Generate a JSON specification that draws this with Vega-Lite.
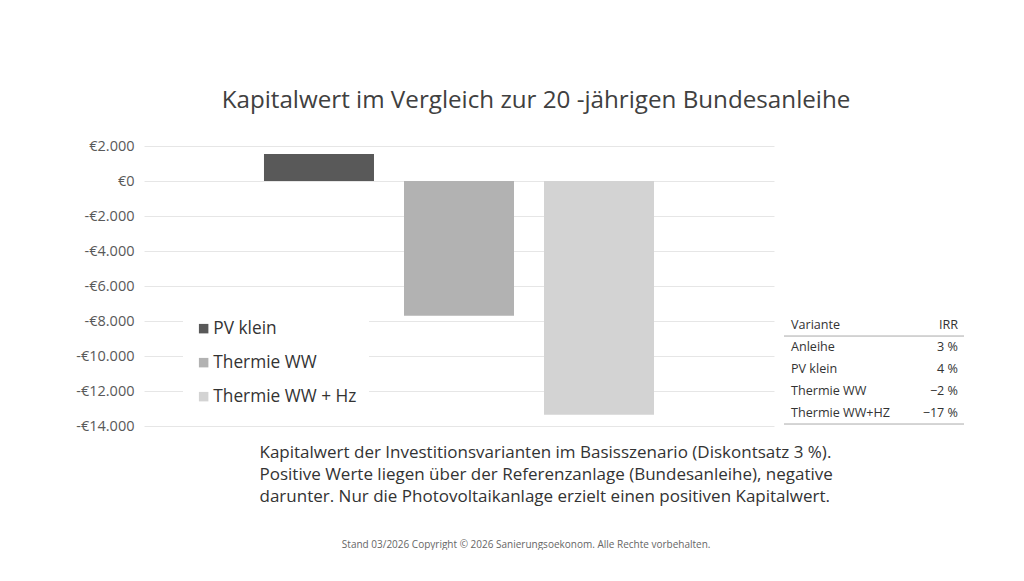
{
  "$schema": "https://vega.github.io/schema/vega-lite/v6.json",
  "background": "white",
  "padding": {"left": 75, "top": 88, "right": 0, "bottom": 0},
  "title": {
    "text": "Stand 03/2026 Copyright © 2026 Sanierungsoekonom. Alle Rechte vorbehalten.",
    "orient": "bottom",
    "anchor": "middle",
    "fontSize": 10,
    "fontWeight": "normal",
    "color": "#666666",
    "dx": 6,
    "offset": 36
  },
  "bounds": "flush",
  "spacing": 10,
  "hconcat": [
    {
      "width": 630,
      "height": 280,
      "title": {
        "text": "Kapitalwert im Vergleich zur 20 -jährigen Bundesanleihe",
        "fontSize": 24.2,
        "fontWeight": "normal",
        "color": "#404040",
        "anchor": "middle",
        "dx": 77,
        "offset": 25
      },
      "data": {
        "values": [
          {"Variante": "PV klein", "Kapitalwert": 1540},
          {"Variante": "Thermie WW", "Kapitalwert": -7700},
          {"Variante": "Thermie WW + Hz", "Kapitalwert": -13350}
        ]
      },
      "mark": {"type": "bar"},
      "encoding": {
        "x": {
          "field": "Variante",
          "type": "nominal",
          "sort": null,
          "scale": {"paddingInner": 0.2143, "paddingOuter": 0.857},
          "axis": {
            "labels": false,
            "ticks": false,
            "domain": false,
            "grid": false,
            "title": [
              "Kapitalwert der Investitionsvarianten im Basisszenario (Diskontsatz 3 %).",
              "Positive Werte liegen über der Referenzanlage (Bundesanleihe), negative",
              "darunter. Nur die Photovoltaikanlage erzielt einen positiven Kapitalwert."
            ],
            "titleFontSize": 17,
            "titleFontWeight": "normal",
            "titleColor": "#333333",
            "titleAlign": "left",
            "titleAnchor": "start",
            "titleBaseline": "top",
            "titleLineHeight": 22,
            "titleX": 115,
            "titleY": 18
          }
        },
        "y": {
          "field": "Kapitalwert",
          "type": "quantitative",
          "scale": {"domain": [-14000, 2000], "nice": false},
          "axis": {
            "values": [2000, 0, -2000, -4000, -6000, -8000, -10000, -12000, -14000],
            "format": "$,.0f",
            "title": null,
            "domain": false,
            "ticks": false,
            "labelPadding": 10,
            "labelFontSize": 14.5,
            "labelColor": "#595959",
            "gridColor": "#e6e6e6"
          }
        },
        "color": {
          "field": "Variante",
          "type": "nominal",
          "sort": null,
          "scale": {
            "domain": ["PV klein", "Thermie WW", "Thermie WW + Hz"],
            "range": ["#595959", "#b2b2b2", "#d3d3d3"]
          },
          "legend": {
            "orient": "none",
            "legendX": 39,
            "legendY": 162,
            "fillColor": "white",
            "padding": 12,
            "title": null,
            "symbolType": "square",
            "symbolSize": 90,
            "symbolStrokeWidth": 0,
            "labelFontSize": 17.3,
            "labelColor": "#333333",
            "labelOffset": 1,
            "rowPadding": 16
          }
        }
      }
    },
    {
      "width": 180,
      "height": 280,
      "data": {
        "values": [
          {"row": 0, "Variante": "Variante", "IRR": "IRR"},
          {"row": 1, "Variante": "Anleihe", "IRR": "3 %"},
          {"row": 2, "Variante": "PV klein", "IRR": "4 %"},
          {"row": 3, "Variante": "Thermie WW", "IRR": "−2 %"},
          {"row": 4, "Variante": "Thermie WW+HZ", "IRR": "−17 %"}
        ]
      },
      "layer": [
        {
          "mark": {"type": "text", "align": "left", "baseline": "middle", "fontSize": 12.6, "color": "#333333"},
          "encoding": {
            "y": {
              "field": "row",
              "type": "quantitative",
              "scale": {"domain": [-8.14, 4.59], "reverse": true, "nice": false, "zero": false},
              "axis": null
            },
            "x": {"value": 7},
            "text": {"field": "Variante"}
          }
        },
        {
          "mark": {"type": "text", "align": "right", "baseline": "middle", "fontSize": 12.6, "color": "#333333"},
          "encoding": {
            "y": {"field": "row", "type": "quantitative"},
            "x": {"value": 174},
            "text": {"field": "IRR"}
          }
        },
        {
          "data": {"values": [{"line": 0.5}, {"line": 4.5}]},
          "mark": {"type": "rule", "color": "#aaaaaa", "strokeWidth": 1},
          "encoding": {
            "y": {"field": "line", "type": "quantitative"}
          }
        }
      ]
    }
  ],
  "config": {
    "font": "Open Sans",
    "view": {"stroke": null},
    "locale": {
      "number": {
        "decimal": ",",
        "thousands": ".",
        "grouping": [3],
        "currency": ["€", ""],
        "minus": "-"
      }
    }
  }
}
